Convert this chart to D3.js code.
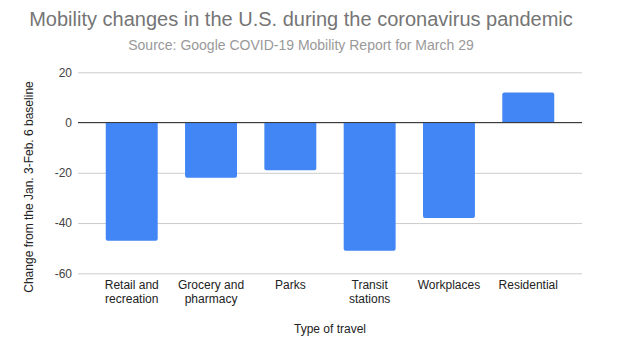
<!DOCTYPE html>
<html><head><meta charset="utf-8">
<script src="https://cdn.jsdelivr.net/npm/d3@7"></script>
<style>body{margin:0;background:#fff}svg{display:block}</style>
</head><body>
<svg id="c" width="622" height="353" font-family="Liberation Sans, Arial, sans-serif"></svg>
<script>
const categories = [["Retail and","recreation"],["Grocery and","pharmacy"],["Parks"],["Transit","stations"],["Workplaces"],["Residential"]];
const values = [-47, -22, -19, -51, -38, 12];
const yTicks = [20, 0, -20, -40, -60];

const svg = d3.select("#c");
const m = {l:78, r:582, t:72.3, b:273.3};
const x = d3.scaleBand().domain(d3.range(categories.length)).range([m.l, m.r]).paddingInner(0.345).paddingOuter(0.35);
const y = d3.scaleLinear().domain([-60, 20]).range([m.b, m.t]);

svg.append("text").attr("x",301).attr("y",26).attr("text-anchor","middle").attr("font-size",20).attr("fill","#757575")
  .text("Mobility changes in the U.S. during the coronavirus pandemic");
svg.append("text").attr("x",301).attr("y",50).attr("text-anchor","middle").attr("font-size",14).attr("fill","#999")
  .text("Source: Google COVID-19 Mobility Report for March 29");

const yAxis = d3.axisLeft(y).tickValues(yTicks).tickSize(-(m.r-m.l)).tickPadding(6).tickFormat(d=>String(d));
const ga = svg.append("g").attr("transform",`translate(${m.l},0)`).call(yAxis);
ga.attr("font-family",null);
ga.select(".domain").remove();
ga.selectAll(".tick line").attr("stroke","#ccc").attr("stroke-width",1);
ga.selectAll(".tick text").attr("font-size",12).attr("fill","#444").attr("x",-6);

svg.append("g").selectAll("path").data(values).join("path")
  .attr("fill","#4285F4")
  .attr("d",(d,i)=>{
    const x0=x(i), w=x.bandwidth(), y0=y(0), y1=y(d), r=2;
    if(d<0){
      return `M${x0},${y0}H${x0+w}V${y1-r}Q${x0+w},${y1} ${x0+w-r},${y1}H${x0+r}Q${x0},${y1} ${x0},${y1-r}Z`;
    } else {
      return `M${x0},${y0}V${y1+r}Q${x0},${y1} ${x0+r},${y1}H${x0+w-r}Q${x0+w},${y1} ${x0+w},${y1+r}V${y0}Z`;
    }
  });

svg.append("line").attr("x1",m.l).attr("x2",m.r).attr("y1",y(0)).attr("y2",y(0)).attr("stroke","#333").attr("stroke-width",1);

const xl = svg.append("g").selectAll("text").data(categories).join("text")
  .attr("text-anchor","middle").attr("font-size",12).attr("fill","#222")
  .attr("transform",(d,i)=>`translate(${x(i)+x.bandwidth()/2},289)`);
xl.selectAll("tspan").data(d=>d).join("tspan").attr("x",0).attr("dy",(d,j)=>j?14:0).text(d=>d);

svg.append("text").attr("x",330).attr("y",333).attr("text-anchor","middle").attr("font-size",12).attr("fill","#222").text("Type of travel");
svg.append("text").attr("transform","translate(33,187) rotate(-90)").attr("text-anchor","middle").attr("font-size",12).attr("fill","#222")
  .text("Change from the Jan. 3-Feb. 6 baseline");
</script>
</body></html>
